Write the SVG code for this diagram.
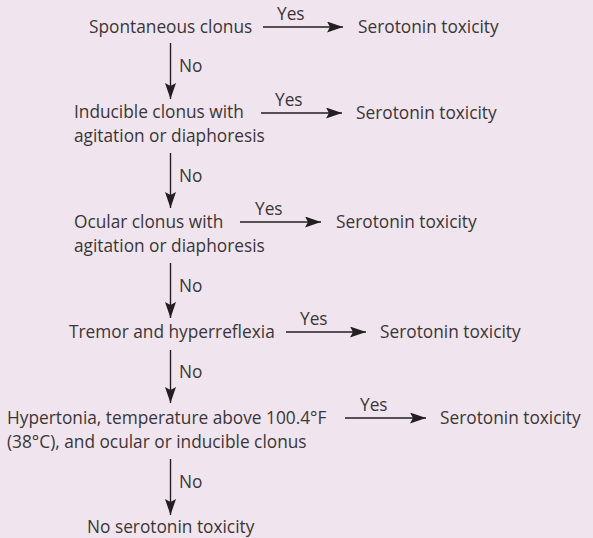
<svg xmlns="http://www.w3.org/2000/svg" width="593" height="538" viewBox="0 0 593 538">
<defs>
<style>
text{font-family:"Open Sans","Noto Sans","Liberation Sans",sans-serif;font-size:17.3px;fill:#3a3637}
.c line{stroke:#231f20;stroke-width:1.4}
.h{marker-end:url(#ah)}
</style>
<marker id="ah" viewBox="0 0 16 11" refX="16" refY="5.5" markerWidth="16" markerHeight="11" markerUnits="userSpaceOnUse" orient="auto">
<path d="M0,0 L16,5.5 L0,11 L3,5.5 Z" fill="#231f20"/>
</marker>
</defs>
<rect width="593" height="538" fill="#f0e4ee"/>
<g id="n1"><text x="89" y="33">Spontaneous clonus</text></g>
<g id="y1"><text x="358" y="33">Serotonin toxicity</text></g>
<g id="n2"><text x="74" y="118">Inducible clonus with</text><text x="74" y="142">agitation or diaphoresis</text></g>
<g id="y2"><text x="356" y="119">Serotonin toxicity</text></g>
<g id="n3"><text x="74" y="228">Ocular clonus with</text><text x="74" y="252">agitation or diaphoresis</text></g>
<g id="y3"><text x="336" y="228">Serotonin toxicity</text></g>
<g id="n4"><text x="69" y="338">Tremor and hyperreflexia</text></g>
<g id="y4"><text x="380" y="338">Serotonin toxicity</text></g>
<g id="n5"><text x="7" y="424">Hypertonia, temperature above 100.4°F</text><text x="7" y="448">(38°C), and ocular or inducible clonus</text></g>
<g id="y5"><text x="440" y="424">Serotonin toxicity</text></g>
<g id="n6"><text x="87" y="533">No serotonin toxicity</text></g>
<g id="connectors" class="c">
<line class="h" x1="263" y1="27" x2="343" y2="27"/><text x="277" y="20">Yes</text>
<line class="h" x1="261" y1="113" x2="342" y2="113"/><text x="275" y="106">Yes</text>
<line class="h" x1="240" y1="222" x2="321" y2="222"/><text x="255" y="215">Yes</text>
<line class="h" x1="286" y1="332" x2="366" y2="332"/><text x="300" y="325">Yes</text>
<line class="h" x1="345" y1="418" x2="426" y2="418"/><text x="360" y="411">Yes</text>
<line class="h" x1="170.5" y1="43" x2="170.5" y2="99"/><text x="179" y="72">No</text>
<line class="h" x1="170.5" y1="153" x2="170.5" y2="208"/><text x="179" y="182">No</text>
<line class="h" x1="170.5" y1="263" x2="170.5" y2="318"/><text x="179" y="292">No</text>
<line class="h" x1="170.5" y1="350" x2="170.5" y2="403"/><text x="179" y="378">No</text>
<line class="h" x1="170.5" y1="459" x2="170.5" y2="515"/><text x="179" y="488">No</text>
</g>
</svg>
